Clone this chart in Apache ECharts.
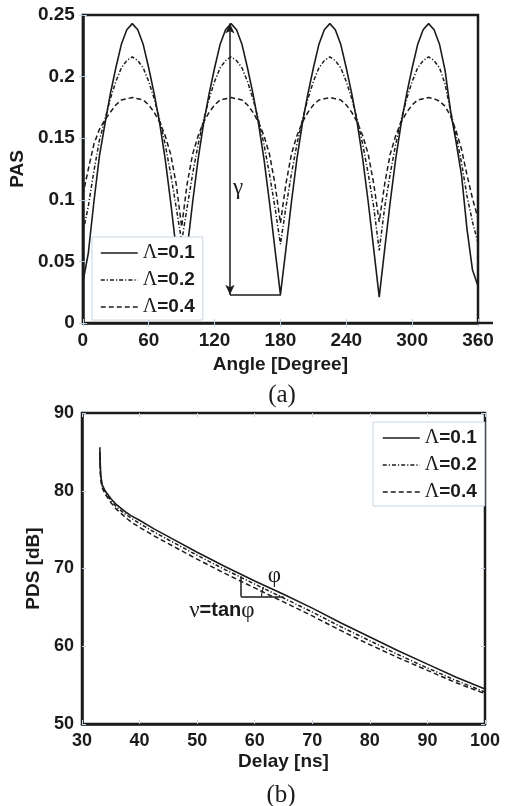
<!DOCTYPE html>
<html>
<head>
<meta charset="utf-8">
<script src="https://cdn.jsdelivr.net/npm/echarts@6/dist/echarts.min.js"></script>
<style>
  html, body { margin: 0; padding: 0; background: #fff; }
  #chart { width: 505px; height: 806px; }
</style>
</head>
<body>
<div id="chart"></div>
<script>
// ---- (a) power angular spectrum ----
const angles = [0,5,10,15,20,25,30,35,40,45,50,55,60,65,70,75,80,85,90,
  95,100,105,110,115,120,125,130,135,140,145,150,155,160,165,170,175,180,
  185,190,195,200,205,210,215,220,225,230,235,240,245,250,255,260,265,270,
  275,280,285,290,295,300,305,310,315,320,325,330,335,340,345,350,355,360];

const pasL01 = [0.033,0.057,0.098,0.135,0.161,0.186,0.207,0.226,0.238,0.243,0.238,0.226,0.207,0.186,0.162,0.133,0.098,0.060,0.022,
  0.060,0.098,0.133,0.162,0.186,0.207,0.226,0.238,0.243,0.238,0.226,0.207,0.186,0.162,0.133,0.098,0.060,0.023,
  0.060,0.098,0.133,0.162,0.186,0.207,0.226,0.238,0.243,0.238,0.226,0.207,0.186,0.162,0.133,0.098,0.060,0.021,
  0.060,0.098,0.133,0.162,0.186,0.207,0.226,0.238,0.243,0.238,0.226,0.205,0.172,0.147,0.120,0.076,0.043,0.030];

const pasL02 = [0.073,0.095,0.123,0.148,0.165,0.182,0.196,0.207,0.213,0.216,0.213,0.207,0.196,0.182,0.165,0.145,0.121,0.094,0.066,
  0.094,0.121,0.145,0.165,0.182,0.196,0.207,0.213,0.216,0.213,0.207,0.196,0.182,0.165,0.145,0.121,0.094,0.064,
  0.094,0.121,0.145,0.165,0.182,0.196,0.207,0.213,0.216,0.213,0.207,0.196,0.182,0.165,0.145,0.121,0.094,0.059,
  0.094,0.121,0.145,0.165,0.182,0.196,0.207,0.213,0.216,0.213,0.207,0.194,0.172,0.152,0.130,0.103,0.082,0.065];

const pasL04 = [0.104,0.125,0.145,0.157,0.165,0.171,0.177,0.181,0.182,0.183,0.182,0.181,0.177,0.171,0.163,0.152,0.137,0.113,0.078,
  0.113,0.137,0.152,0.163,0.171,0.177,0.181,0.182,0.183,0.182,0.181,0.177,0.171,0.163,0.152,0.137,0.113,0.081,
  0.113,0.137,0.152,0.163,0.171,0.177,0.181,0.182,0.183,0.182,0.181,0.177,0.171,0.163,0.152,0.137,0.113,0.082,
  0.113,0.137,0.152,0.163,0.171,0.177,0.181,0.182,0.183,0.182,0.180,0.176,0.168,0.156,0.141,0.120,0.101,0.085];

// ---- (b) power delay spectrum ----
const delays = [33.1,33.15,33.25,33.5,34,35,36,37.5,38.5,40,42.5,45,50,55,60,65,70,75,80,85,90,95,100];
const pdsL01 = [85.6,84.0,82.0,80.8,80.0,79.0,78.2,77.3,76.8,76.2,75.1,74.1,72.1,70.2,68.4,66.7,64.9,63.0,61.2,59.4,57.7,56.0,54.5];
const pdsL02 = [85.0,83.5,81.7,80.6,79.8,78.8,77.9,77.0,76.5,75.8,74.7,73.7,71.7,69.8,68.0,66.2,64.4,62.5,60.7,58.9,57.2,55.6,54.1];
const pdsL04 = [84.5,83.0,81.4,80.4,79.6,78.5,77.6,76.6,76.0,75.3,74.2,73.2,71.2,69.3,67.5,65.7,63.9,62.0,60.2,58.5,56.9,55.3,53.9];

const seriesNames = ['Λ=0.1', 'Λ=0.2', 'Λ=0.4'];
const angleTicks = [0, 360, 60];
const pasTicks = [0, 0.25, 0.05];
const delayTicks = [30, 100, 10];
const pdsTicks = [50, 90, 10];

// annotation anchors (data units)
const gammaArrow = { x: 134, low: 0.023, high: 0.243, right: 180.5 };
const gammaLabel = [141.5, 0.110];
const slopeTri = { x0: 57.6, x1: 65.0, low: 66.4, high: 69.0 };
const phiLabel = [63.4, 69.0];
const slopeLabel = [54.3, 64.6];

const INK = '#1b1b1b';
const SANS = 'Liberation Sans, Arial, sans-serif';
const SERIF = 'Liberation Serif, Times New Roman, serif';
const styles = [
  { type: 'solid', width: 1.6 },
  { type: [4, 2, 1.2, 2], width: 1.5 },
  { type: [5, 3], width: 1.5 }
];

const zip = (xs, ys) => xs.map((x, i) => [x, ys[i]]);

const chart = echarts.init(document.getElementById('chart'), null, { renderer: 'canvas' });

function axisBase(fontSize) {
  return {
    axisLine: { show: true, onZero: false, lineStyle: { color: INK, width: 2.5 } },
    axisTick: { show: true, inside: true, length: 4, lineStyle: { color: '#c3d2e2', width: 1 } },
    splitLine: { show: false },
    axisLabel: { color: INK, fontFamily: SANS, fontWeight: 'bold', fontSize: fontSize },
    nameTextStyle: { color: INK, fontFamily: SANS, fontWeight: 'bold', fontSize: 19 }
  };
}
function tickOnly(extra) {
  return Object.assign({
    axisLine: { show: false },
    axisTick: { show: true, inside: true, length: 4, lineStyle: { color: '#c3d2e2', width: 1 } },
    axisLabel: { show: false },
    splitLine: { show: false }
  }, extra);
}

const legendText = {
  color: INK, fontFamily: SANS, fontWeight: 'bold', fontSize: 19, lineHeight: 20,
  rich: {
    l: { fontFamily: SERIF, fontWeight: 'normal', fontSize: 20, color: INK },
    t: { fontFamily: SANS, fontWeight: 'bold', fontSize: 19, color: INK }
  }
};
const legendFmt = name => '{l|Λ}{t|' + name.slice(1) + '}';

function legendAt(left, top, padding) {
  return {
    data: seriesNames, orient: 'vertical', left: left, top: top,
    itemWidth: 37, itemHeight: 14, itemGap: 7, padding: padding,
    backgroundColor: '#fff', borderColor: '#c8d6e5', borderWidth: 1, borderRadius: 0,
    selectedMode: false, textStyle: legendText, formatter: legendFmt,
    // line sample only, no marker on it
    itemStyle: { opacity: 0, borderWidth: 0 },
    lineStyle: { width: 1.5 }
  };
}

function makeSeries(gridIdx, xs, ys, i, extra) {
  return Object.assign({
    name: seriesNames[i],
    type: 'line',
    xAxisIndex: gridIdx,
    yAxisIndex: gridIdx,
    data: zip(xs, ys),
    showSymbol: false,
    symbol: 'none',
    lineStyle: Object.assign({ color: INK }, styles[i]),
    itemStyle: { color: INK },
    z: 2,
    animation: false
  }, extra || {});
}

const option = {
  backgroundColor: '#fff',
  animation: false,
  grid: [
    { left: 81, right: 27, top: 15, bottom: 483, show: true, borderColor: INK, borderWidth: 2.5, backgroundColor: 'transparent' },
    { left: 82, right: 20, top: 413, bottom: 82, show: true, borderColor: INK, borderWidth: 2.5, backgroundColor: 'transparent' }
  ],
  xAxis: [
    Object.assign(axisBase(19), {
      type: 'value', gridIndex: 0, position: 'bottom',
      min: angleTicks[0], max: angleTicks[1], interval: angleTicks[2],
      name: 'Angle [Degree]', nameLocation: 'middle', nameGap: 32
    }),
    Object.assign(axisBase(18), {
      type: 'value', gridIndex: 1, position: 'bottom',
      min: delayTicks[0], max: delayTicks[1], interval: delayTicks[2],
      name: 'Delay [ns]', nameLocation: 'middle', nameGap: 28
    }),
    tickOnly({ type: 'value', gridIndex: 0, position: 'top', min: angleTicks[0], max: angleTicks[1], interval: angleTicks[2] }),
    tickOnly({ type: 'value', gridIndex: 1, position: 'top', min: delayTicks[0], max: delayTicks[1], interval: delayTicks[2] })
  ],
  yAxis: [
    Object.assign(axisBase(19), {
      type: 'value', gridIndex: 0, position: 'left',
      min: pasTicks[0], max: pasTicks[1], interval: pasTicks[2],
      name: 'PAS', nameLocation: 'middle', nameGap: 54
    }),
    Object.assign(axisBase(18), {
      type: 'value', gridIndex: 1, position: 'left',
      min: pdsTicks[0], max: pdsTicks[1], interval: pdsTicks[2],
      name: 'PDS [dB]', nameLocation: 'middle', nameGap: 38
    }),
    tickOnly({ type: 'value', gridIndex: 0, position: 'right', min: pasTicks[0], max: pasTicks[1], interval: pasTicks[2] }),
    tickOnly({ type: 'value', gridIndex: 1, position: 'right', min: pdsTicks[0], max: pdsTicks[1], interval: pdsTicks[2] })
  ],
  legend: [
    legendAt(92, 237, [6, 8, 3, 8]),
    legendAt(373, 422, [6, 8, 4, 9])
  ],
  series: [
    makeSeries(0, angles, pasL01, 0, {
      markLine: {
        silent: true, animation: false, symbol: ['none', 'none'],
        label: { show: false },
        lineStyle: { color: INK, width: 1.5, type: 'solid' },
        data: [
          [ { coord: [gammaArrow.x, gammaArrow.low], symbol: 'arrow', symbolSize: [7, 10] },
            { coord: [gammaArrow.x, gammaArrow.high], symbol: 'arrow', symbolSize: [7, 10] } ],
          [ { coord: [gammaArrow.x, gammaArrow.low] }, { coord: [gammaArrow.right, gammaArrow.low] } ]
        ]
      }
    }),
    makeSeries(0, angles, pasL02, 1),
    makeSeries(0, angles, pasL04, 2),
    makeSeries(1, delays, pdsL01, 0, {
      markLine: {
        silent: true, animation: false, symbol: ['none', 'none'],
        label: { show: false },
        lineStyle: { color: INK, width: 1.5, type: 'solid' },
        data: [
          [ { coord: [slopeTri.x0, slopeTri.low] }, { coord: [slopeTri.x0, slopeTri.high] } ],
          [ { coord: [slopeTri.x0, slopeTri.low] }, { coord: [slopeTri.x1, slopeTri.low] } ]
        ]
      }
    }),
    makeSeries(1, delays, pdsL02, 1),
    makeSeries(1, delays, pdsL04, 2)
  ]
};

chart.setOption(option);

// Annotations placed from data coordinates
const px = (g, p) => chart.convertToPixel({ gridIndex: g }, p);
const gPos = px(0, gammaLabel);
const axisEnd = px(0, [angleTicks[1], pasTicks[0]]);
const vtx = px(1, [slopeTri.x1, slopeTri.low]);
const topV = px(1, [slopeTri.x0, slopeTri.high]);
const hypAngle = Math.atan2(vtx[1] - topV[1], vtx[0] - topV[0]);
const phiPos = px(1, phiLabel);
const slopePos = px(1, slopeLabel);

chart.setOption({
  graphic: [
    { type: 'line', silent: true, z: 10,
      shape: { x1: axisEnd[0], y1: axisEnd[1], x2: axisEnd[0] + 15, y2: axisEnd[1] },
      style: { stroke: INK, lineWidth: 2.5 } },
    { type: 'text', silent: true, z: 10, x: gPos[0], y: gPos[1],
      style: { text: 'γ', fill: INK, font: '23px ' + SERIF, textAlign: 'center', textVerticalAlign: 'middle' } },
    { type: 'arc', silent: true, z: 10,
      shape: { cx: vtx[0], cy: vtx[1], r: 22, startAngle: Math.PI, endAngle: Math.PI + hypAngle, clockwise: true },
      style: { stroke: INK, lineWidth: 1.2, fill: null } },
    { type: 'text', silent: true, z: 10, x: phiPos[0], y: phiPos[1],
      style: { text: 'φ', fill: INK, font: '23px ' + SERIF, textAlign: 'center', textVerticalAlign: 'middle' } },
    { type: 'text', silent: true, z: 10, x: slopePos[0], y: slopePos[1],
      style: {
        text: '{g|ν}{t|=tan}{g|φ}', textAlign: 'center', textVerticalAlign: 'middle',
        rich: {
          g: { fontFamily: SERIF, fontSize: 23, fill: INK },
          t: { fontFamily: SANS, fontWeight: 'bold', fontSize: 20, fill: INK }
        }
      } },
    { type: 'text', silent: true, z: 10, x: 282, y: 395,
      style: { text: '(a)', fill: INK, font: '25px ' + SERIF, textAlign: 'center', textVerticalAlign: 'middle' } },
    { type: 'text', silent: true, z: 10, x: 281, y: 795,
      style: { text: '(b)', fill: INK, font: '25px ' + SERIF, textAlign: 'center', textVerticalAlign: 'middle' } }
  ]
});
</script>
</body>
</html>
